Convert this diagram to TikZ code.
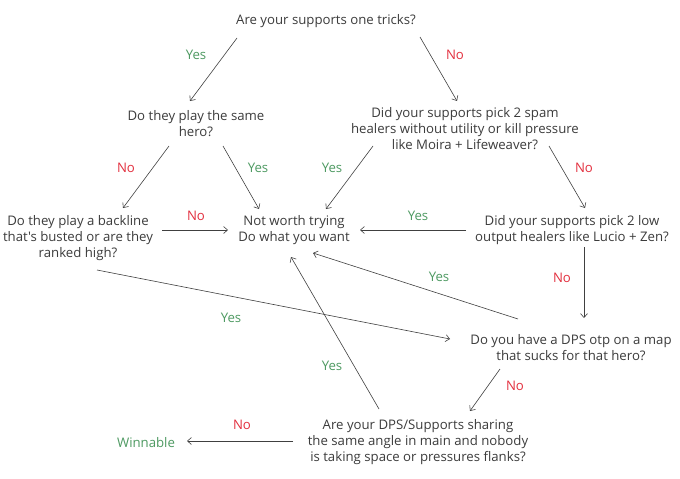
\documentclass[tikz,border=0pt]{standalone}
\usepackage{fontspec}
\setmainfont{Open Sans}[Ligatures=TeXOff]
\usetikzlibrary{arrows.meta}
\definecolor{txt}{HTML}{3C3C3C}
\definecolor{yesc}{HTML}{4E9A62}
\definecolor{noc}{HTML}{E3303F}
\definecolor{ln}{HTML}{404040}
\begin{document}
\begin{tikzpicture}[x=1pt,y=-1pt,
  q/.style={text=txt,align=center,inner sep=0pt,font=\fontsize{13.2}{16}\selectfont},
  lab/.style={inner sep=0pt,font=\fontsize{13.2}{16}\selectfont},
  yes/.style={lab,text=yesc},
  no/.style={lab,text=noc},
  arr/.style={draw=ln,line width=0.6pt,-{Straight Barb[length=4pt,width=7pt]}}]
\useasboundingbox (0,0) rectangle (680,479);
\fill[white] (0,0) rectangle (680,479);
\node[q] (q1) at (326,21) {Are your supports one tricks?};
\node[q] (q2) at (196,124) {Do they play the same\\hero?};
\node[q] (q3) at (465,129) {Did your supports pick 2 spam\\healers without utility or kill pressure\\like Moira + Lifeweaver?};
\node[q] (q4) at (78,238) {Do they play a backline\\that's busted or are they\\ranked high?};
\node[q] (nw) at (294,230) {Not worth trying\\Do what you want};
\node[q] (q5) at (572,230) {Did your supports pick 2 low\\output healers like Lucio + Zen?};
\node[q] (q6) at (571,348) {Do you have a DPS otp on a map\\that sucks for that hero?};
\node[q] (q7) at (418,442) {Are your DPS/Supports sharing\\the same angle in main and nobody\\is taking space or pressures flanks?};
\node[q,text=yesc] (win) at (146,443) {Winnable};
% connectors
\draw[arr] ([shift={(-89,17)}]q1.center) -- ([shift={(-6,-23)}]q2.center);
\draw[arr] ([shift={(94,16)}]q1.center) -- ([shift={(-8,-28)}]q3.center);
\draw[arr] ([shift={(-27,22)}]q2.center) -- ([shift={(45,-30)}]q4.center);
\draw[arr] ([shift={(27,22)}]q2.center) -- ([shift={(-35,-21)}]nw.center);
\draw[arr] ([shift={(-92,17)}]q3.center) -- ([shift={(32,-21)}]nw.center);
\draw[arr] ([shift={(84,17)}]q3.center) -- ([shift={(13,-22)}]q5.center);
\draw[arr] ([shift={(84,-8)}]q4.center) -- ([shift={(-66,0)}]nw.center);
\draw[arr] ([shift={(-106,0)}]q5.center) -- ([shift={(66,0)}]nw.center);
\draw[arr] ([shift={(12,17)}]q5.center) -- ([shift={(13,-30)}]q6.center);
\draw[arr] ([shift={(-53,-29)}]q6.center) -- ([shift={(19,23)}]nw.center);
\draw[arr] ([shift={(19,32)}]q4.center) -- ([shift={(-121,-9)}]q6.center);
\draw[arr] ([shift={(-71,21)}]q6.center) -- ([shift={(52,-31)}]q7.center);
\draw[arr] ([shift={(-39,-33)}]q7.center) -- ([shift={(-3,27)}]nw.center);
\draw[arr] ([shift={(-125,-1)}]q7.center) -- ([shift={(41,-2)}]win.center);
% labels
\node[yes] (l1) at (196,55) {Yes};
\node[no] (l2) at (455,55) {No};
\node[no] (l3) at (126,168) {No};
\node[yes] (l4) at (258,168) {Yes};
\node[yes] (l5) at (332,168) {Yes};
\node[no] (l6) at (584,168) {No};
\node[no] (l7) at (196,216) {No};
\node[yes] (l8) at (418,216) {Yes};
\node[no] (l9) at (562,278) {No};
\node[yes] (l10) at (439,277) {Yes};
\node[yes] (l11) at (231,318) {Yes};
\node[no] (l12) at (515,386) {No};
\node[yes] (l13) at (332,366) {Yes};
\node[no] (l14) at (242,425) {No};
\end{tikzpicture}
\end{document}
